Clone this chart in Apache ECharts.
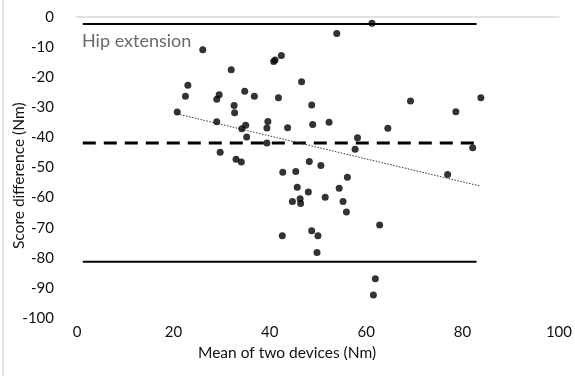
<!DOCTYPE html>
<html>
<head>
<meta charset="utf-8">
<script src="https://cdn.jsdelivr.net/npm/echarts@6/dist/echarts.min.js"></script>
<style>
  html, body { margin: 0; padding: 0; background: #fff; }
  #main { width: 575px; height: 376px; }
</style>
</head>
<body>
<div id="main"></div>
<script>
// mean of the two devices (Nm), difference (Nm)
const meanVals = [20.8, 22.5, 23.0, 26.1, 29.0, 29.5, 29.0, 29.7, 32.0, 32.6, 32.7, 33.0, 34.1, 34.8, 35.0, 34.2,
  35.2, 36.8, 39.6, 39.4, 39.4, 40.8, 41.1, 42.4, 41.8, 43.7, 42.7, 42.6, 44.7, 45.4, 45.7, 46.3, 46.4, 46.6,
  48.0, 48.2, 48.7, 48.9, 48.7, 50.0, 49.8, 50.6, 51.5, 52.3, 53.9, 54.4, 55.2, 55.9, 56.1, 57.7, 58.2, 61.2,
  61.5, 61.9, 62.8, 64.5, 69.2, 76.9, 78.6, 82.1, 83.8];
const diffVals = [-31.6, -26.3, -22.7, -10.9, -27.3, -25.8, -34.8, -44.9, -17.5, -29.4, -31.8, -47.3, -48.2, -24.7, -36.0, -37.1,
  -39.9, -26.3, -34.7, -36.9, -41.9, -14.8, -14.3, -12.8, -26.8, -36.8, -51.6, -72.7, -61.3, -51.3, -56.6, -60.4, -62.0, -21.5,
  -58.1, -48.0, -29.2, -35.7, -71.0, -72.7, -78.2, -49.3, -59.9, -35.0, -5.5, -56.9, -61.3, -64.8, -53.2, -43.9, -40.1, -2.1,
  -92.4, -87.0, -69.1, -37.0, -27.9, -52.3, -31.5, -43.4, -26.8];

// limits of agreement and bias
const limitX = [1.2, 82.9];
const upperLimit = -2.3;
const meanBias = -41.9;
const lowerLimit = -81.3;

// linear trend
const trendX = [20.8, 83.5];
const trendY = [-32.2, -56.1];

const xTicks = [0, 20, 40, 60, 80, 100];
const yTicks = [-100, -90, -80, -70, -60, -50, -40, -30, -20, -10, 0];

const FONT = "Lato";

const points = meanVals.map((m, i) => [m, diffVals[i]]);
const hLine = (y) => limitX.map((x) => [x, y]);

const chart = echarts.init(document.getElementById("main"));

const option = {
  animation: false,
  grid: { left: 77, right: 13, top: 17, bottom: 58 },
  xAxis: [
    {
      type: "value",
      min: xTicks[0],
      max: xTicks[xTicks.length - 1],
      interval: 20,
      position: "bottom",
      axisLine: { show: false },
      axisTick: { show: false },
      splitLine: { show: false },
      axisLabel: { color: "#111", fontFamily: FONT, fontSize: 15, margin: 7 }
    },
    {
      type: "value",
      min: xTicks[0],
      max: xTicks[xTicks.length - 1],
      position: "top",
      axisLine: { show: true, lineStyle: { color: "#d9d9d9", width: 1.5 } },
      axisTick: { show: false },
      splitLine: { show: false },
      axisLabel: { show: false }
    }
  ],
  yAxis: {
    type: "value",
    min: yTicks[0],
    max: yTicks[yTicks.length - 1],
    interval: 10,
    axisLine: { show: false },
    axisTick: { show: false },
    splitLine: { show: false },
    axisLabel: { color: "#111", fontFamily: FONT, fontSize: 15, margin: 23 }
  },
  graphic: [
    {
      type: "line",
      shape: { x1: 3, y1: 0, x2: 3, y2: 376 },
      style: { stroke: "#c8c8c8", lineWidth: 1 }
    },
    {
      type: "text",
      left: 82,
      top: 32,
      style: { text: "Hip extension", fill: "#6a6a6a", font: "18px " + FONT }
    },
    {
      type: "text",
      left: 198,
      top: 345,
      style: { text: "Mean of two devices (Nm)", fill: "#111", font: "15.5px " + FONT }
    },
    {
      type: "text",
      x: 11,
      y: 249,
      rotation: Math.PI / 2,
      style: { text: "Score difference (Nm)", fill: "#111", font: "15.5px " + FONT }
    }
  ],
  series: [
    {
      type: "line",
      data: hLine(upperLimit),
      symbol: "none",
      lineStyle: { color: "#000", width: 2 },
      z: 1
    },
    {
      type: "line",
      data: hLine(meanBias),
      symbol: "none",
      lineStyle: { color: "#000", width: 3, type: [13, 8] },
      z: 1
    },
    {
      type: "line",
      data: hLine(lowerLimit),
      symbol: "none",
      lineStyle: { color: "#000", width: 2 },
      z: 1
    },
    {
      type: "line",
      data: trendX.map((x, i) => [x, trendY[i]]),
      symbol: "none",
      lineStyle: { color: "#333", width: 1, type: [1.5, 1.5] },
      z: 2
    },
    {
      type: "scatter",
      data: points,
      symbol: "circle",
      symbolSize: 7,
      itemStyle: { color: "#000" },
      z: 3
    }
  ]
};

option && chart.setOption(option);
</script>
</body>
</html>
